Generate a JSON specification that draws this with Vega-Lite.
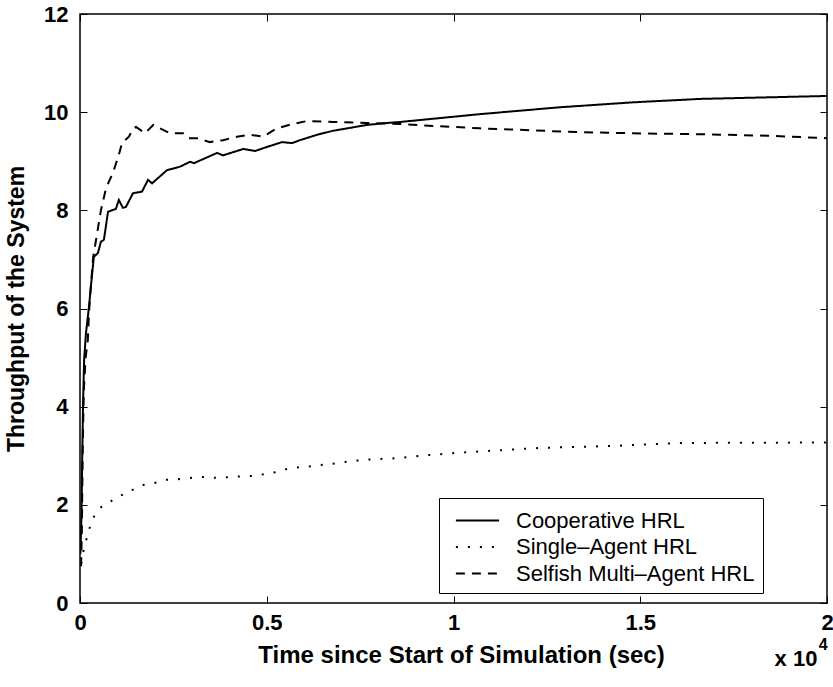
{
  "$schema": "https://vega.github.io/schema/vega-lite/v6.json",
  "width": 747,
  "height": 589,
  "autosize": {"type": "none"},
  "padding": {"left": 80, "top": 14, "right": 6, "bottom": 84},
  "background": "white",
  "config": {
    "font": "Liberation Sans",
    "view": {"stroke": "black", "strokeWidth": 1.5},
    "axis": {
      "grid": false,
      "domain": false,
      "tickColor": "black",
      "tickWidth": 1,
      "tickSize": -7,
      "labelColor": "black",
      "labelFont": "Liberation Sans",
      "labelFontWeight": "bold",
      "labelFontSize": 22,
      "titleFont": "Liberation Sans",
      "titleFontWeight": "bold",
      "titleFontSize": 24,
      "titleColor": "black"
    }
  },
  "datasets": {
    "curves": [
      {"series": "Cooperative HRL", "t": 10, "v": 1.0},
      {"series": "Cooperative HRL", "t": 40, "v": 1.8},
      {"series": "Cooperative HRL", "t": 60, "v": 3.0},
      {"series": "Cooperative HRL", "t": 80, "v": 4.0},
      {"series": "Cooperative HRL", "t": 110, "v": 4.95},
      {"series": "Cooperative HRL", "t": 160, "v": 5.5},
      {"series": "Cooperative HRL", "t": 240, "v": 6.03},
      {"series": "Cooperative HRL", "t": 290, "v": 6.44},
      {"series": "Cooperative HRL", "t": 370, "v": 7.05},
      {"series": "Cooperative HRL", "t": 480, "v": 7.13},
      {"series": "Cooperative HRL", "t": 560, "v": 7.36},
      {"series": "Cooperative HRL", "t": 640, "v": 7.4},
      {"series": "Cooperative HRL", "t": 750, "v": 7.97},
      {"series": "Cooperative HRL", "t": 960, "v": 8.03},
      {"series": "Cooperative HRL", "t": 1040, "v": 8.21},
      {"series": "Cooperative HRL", "t": 1150, "v": 8.05},
      {"series": "Cooperative HRL", "t": 1230, "v": 8.07},
      {"series": "Cooperative HRL", "t": 1420, "v": 8.35},
      {"series": "Cooperative HRL", "t": 1660, "v": 8.38},
      {"series": "Cooperative HRL", "t": 1820, "v": 8.62},
      {"series": "Cooperative HRL", "t": 1930, "v": 8.55},
      {"series": "Cooperative HRL", "t": 2330, "v": 8.82},
      {"series": "Cooperative HRL", "t": 2680, "v": 8.89},
      {"series": "Cooperative HRL", "t": 2950, "v": 8.99},
      {"series": "Cooperative HRL", "t": 3050, "v": 8.96},
      {"series": "Cooperative HRL", "t": 3670, "v": 9.17},
      {"series": "Cooperative HRL", "t": 3830, "v": 9.12},
      {"series": "Cooperative HRL", "t": 4370, "v": 9.25},
      {"series": "Cooperative HRL", "t": 4690, "v": 9.21},
      {"series": "Cooperative HRL", "t": 5000, "v": 9.29},
      {"series": "Cooperative HRL", "t": 5410, "v": 9.39},
      {"series": "Cooperative HRL", "t": 5680, "v": 9.37},
      {"series": "Cooperative HRL", "t": 5890, "v": 9.43},
      {"series": "Cooperative HRL", "t": 6350, "v": 9.54},
      {"series": "Cooperative HRL", "t": 6770, "v": 9.62},
      {"series": "Cooperative HRL", "t": 7230, "v": 9.68},
      {"series": "Cooperative HRL", "t": 7680, "v": 9.74},
      {"series": "Cooperative HRL", "t": 8220, "v": 9.78},
      {"series": "Cooperative HRL", "t": 8570, "v": 9.8},
      {"series": "Cooperative HRL", "t": 10710, "v": 9.96},
      {"series": "Cooperative HRL", "t": 12850, "v": 10.1},
      {"series": "Cooperative HRL", "t": 14800, "v": 10.2},
      {"series": "Cooperative HRL", "t": 16600, "v": 10.27},
      {"series": "Cooperative HRL", "t": 20000, "v": 10.33},

      {"series": "Single–Agent HRL", "t": 30, "v": 0.8},
      {"series": "Single–Agent HRL", "t": 80, "v": 1.02},
      {"series": "Single–Agent HRL", "t": 160, "v": 1.26},
      {"series": "Single–Agent HRL", "t": 240, "v": 1.49},
      {"series": "Single–Agent HRL", "t": 350, "v": 1.73},
      {"series": "Single–Agent HRL", "t": 540, "v": 1.94},
      {"series": "Single–Agent HRL", "t": 800, "v": 2.06},
      {"series": "Single–Agent HRL", "t": 1070, "v": 2.18},
      {"series": "Single–Agent HRL", "t": 1390, "v": 2.3},
      {"series": "Single–Agent HRL", "t": 1660, "v": 2.4},
      {"series": "Single–Agent HRL", "t": 1960, "v": 2.44},
      {"series": "Single–Agent HRL", "t": 2330, "v": 2.51},
      {"series": "Single–Agent HRL", "t": 2760, "v": 2.53},
      {"series": "Single–Agent HRL", "t": 3210, "v": 2.57},
      {"series": "Single–Agent HRL", "t": 3670, "v": 2.55},
      {"series": "Single–Agent HRL", "t": 4100, "v": 2.57},
      {"series": "Single–Agent HRL", "t": 4630, "v": 2.59},
      {"series": "Single–Agent HRL", "t": 5000, "v": 2.63},
      {"series": "Single–Agent HRL", "t": 5270, "v": 2.67},
      {"series": "Single–Agent HRL", "t": 5620, "v": 2.75},
      {"series": "Single–Agent HRL", "t": 6240, "v": 2.79},
      {"series": "Single–Agent HRL", "t": 6880, "v": 2.85},
      {"series": "Single–Agent HRL", "t": 7230, "v": 2.89},
      {"series": "Single–Agent HRL", "t": 7840, "v": 2.93},
      {"series": "Single–Agent HRL", "t": 8490, "v": 2.95},
      {"series": "Single–Agent HRL", "t": 9100, "v": 3.0},
      {"series": "Single–Agent HRL", "t": 10100, "v": 3.06},
      {"series": "Single–Agent HRL", "t": 12320, "v": 3.16},
      {"series": "Single–Agent HRL", "t": 14270, "v": 3.2},
      {"series": "Single–Agent HRL", "t": 16070, "v": 3.26},
      {"series": "Single–Agent HRL", "t": 20000, "v": 3.27},

      {"series": "Selfish Multi–Agent HRL", "t": 30, "v": 0.75},
      {"series": "Selfish Multi–Agent HRL", "t": 50, "v": 1.5},
      {"series": "Selfish Multi–Agent HRL", "t": 70, "v": 3.0},
      {"series": "Selfish Multi–Agent HRL", "t": 100, "v": 4.3},
      {"series": "Selfish Multi–Agent HRL", "t": 150, "v": 5.0},
      {"series": "Selfish Multi–Agent HRL", "t": 210, "v": 5.36},
      {"series": "Selfish Multi–Agent HRL", "t": 240, "v": 5.91},
      {"series": "Selfish Multi–Agent HRL", "t": 290, "v": 6.44},
      {"series": "Selfish Multi–Agent HRL", "t": 350, "v": 7.03},
      {"series": "Selfish Multi–Agent HRL", "t": 430, "v": 7.4},
      {"series": "Selfish Multi–Agent HRL", "t": 560, "v": 8.0},
      {"series": "Selfish Multi–Agent HRL", "t": 700, "v": 8.46},
      {"series": "Selfish Multi–Agent HRL", "t": 880, "v": 8.76},
      {"series": "Selfish Multi–Agent HRL", "t": 1040, "v": 9.13},
      {"series": "Selfish Multi–Agent HRL", "t": 1125, "v": 9.37},
      {"series": "Selfish Multi–Agent HRL", "t": 1310, "v": 9.5},
      {"series": "Selfish Multi–Agent HRL", "t": 1420, "v": 9.67},
      {"series": "Selfish Multi–Agent HRL", "t": 1500, "v": 9.7},
      {"series": "Selfish Multi–Agent HRL", "t": 1740, "v": 9.57},
      {"series": "Selfish Multi–Agent HRL", "t": 1960, "v": 9.74},
      {"series": "Selfish Multi–Agent HRL", "t": 2410, "v": 9.57},
      {"series": "Selfish Multi–Agent HRL", "t": 2760, "v": 9.57},
      {"series": "Selfish Multi–Agent HRL", "t": 2900, "v": 9.47},
      {"series": "Selfish Multi–Agent HRL", "t": 3130, "v": 9.47},
      {"series": "Selfish Multi–Agent HRL", "t": 3480, "v": 9.39},
      {"series": "Selfish Multi–Agent HRL", "t": 3830, "v": 9.43},
      {"series": "Selfish Multi–Agent HRL", "t": 4200, "v": 9.5},
      {"series": "Selfish Multi–Agent HRL", "t": 4550, "v": 9.54},
      {"series": "Selfish Multi–Agent HRL", "t": 4900, "v": 9.5},
      {"series": "Selfish Multi–Agent HRL", "t": 5270, "v": 9.67},
      {"series": "Selfish Multi–Agent HRL", "t": 5700, "v": 9.76},
      {"series": "Selfish Multi–Agent HRL", "t": 6080, "v": 9.82},
      {"series": "Selfish Multi–Agent HRL", "t": 6770, "v": 9.8},
      {"series": "Selfish Multi–Agent HRL", "t": 7680, "v": 9.78},
      {"series": "Selfish Multi–Agent HRL", "t": 8570, "v": 9.76},
      {"series": "Selfish Multi–Agent HRL", "t": 9450, "v": 9.72},
      {"series": "Selfish Multi–Agent HRL", "t": 10710, "v": 9.67},
      {"series": "Selfish Multi–Agent HRL", "t": 12130, "v": 9.63},
      {"series": "Selfish Multi–Agent HRL", "t": 13040, "v": 9.6},
      {"series": "Selfish Multi–Agent HRL", "t": 14800, "v": 9.57},
      {"series": "Selfish Multi–Agent HRL", "t": 16600, "v": 9.55},
      {"series": "Selfish Multi–Agent HRL", "t": 18400, "v": 9.52},
      {"series": "Selfish Multi–Agent HRL", "t": 20000, "v": 9.47}
    ],
    "multiplier": [
      {"t": 19170, "v": -1.14, "label": "x 10"}
    ],
    "exponent": [
      {"t": 19900, "v": -0.86, "label": "4"}
    ]
  },
  "layer": [
    {
      "data": {"name": "curves"},
      "mark": {"type": "line", "color": "black", "strokeWidth": 2, "clip": true, "strokeCap": "butt"},
      "encoding": {
        "x": {
          "field": "t", "type": "quantitative",
          "scale": {"domain": [0, 20000], "nice": false, "zero": false},
          "axis": {
            "orient": "bottom",
            "values": [0, 5000, 10000, 15000, 20000],
            "labelExpr": "format(datum.value / 10000, '~g')",
            "labelPadding": 16,
            "labelFlush": false,
            "title": "Time since Start of Simulation (sec)",
            "titlePadding": 10,
            "titleX": 381
          }
        },
        "y": {
          "field": "v", "type": "quantitative",
          "scale": {"domain": [0, 12], "nice": false, "zero": false},
          "axis": {
            "orient": "left",
            "values": [0, 2, 4, 6, 8, 10, 12],
            "labelPadding": 19,
            "title": "Throughput of the System",
            "titleFontSize": 23,
            "titlePadding": 15
          }
        },
        "strokeDash": {
          "field": "series", "type": "nominal",
          "scale": {
            "domain": ["Cooperative HRL", "Single–Agent HRL", "Selfish Multi–Agent HRL"],
            "range": [[1, 0], [2, 10], [9, 7]]
          },
          "legend": {
            "title": null,
            "orient": "none",
            "legendX": 359,
            "legendY": 484,
            "direction": "vertical",
            "fillColor": "white",
            "strokeColor": "black",
            "padding": 8,
            "symbolType": "M-1.6,0H1.6",
            "symbolSize": 729,
            "symbolOffset": 16,
            "symbolStrokeWidth": 2,
            "symbolStrokeColor": "black",
            "labelFont": "Liberation Sans",
            "labelFontSize": 22,
            "labelColor": "black",
            "labelOffset": 24,
            "labelLimit": 400,
            "rowPadding": 0.5
          }
        }
      }
    },
    {
      "data": {"name": "curves"},
      "mark": {"type": "point", "opacity": 0},
      "encoding": {
        "x": {
          "field": "t", "type": "quantitative",
          "scale": {"domain": [0, 20000], "nice": false, "zero": false},
          "axis": {"orient": "top", "values": [0, 5000, 10000, 15000, 20000], "labels": false, "title": null}
        },
        "y": {
          "field": "v", "type": "quantitative",
          "scale": {"domain": [0, 12], "nice": false, "zero": false},
          "axis": {"orient": "right", "values": [0, 2, 4, 6, 8, 10, 12], "labels": false, "title": null}
        }
      }
    },
    {
      "data": {"name": "multiplier"},
      "mark": {"type": "text", "font": "Liberation Sans", "fontWeight": "bold", "fontSize": 22, "align": "center", "baseline": "middle", "color": "black"},
      "encoding": {
        "x": {"field": "t", "type": "quantitative", "scale": {"domain": [0, 20000], "nice": false, "zero": false}, "axis": null},
        "y": {"field": "v", "type": "quantitative", "scale": {"domain": [0, 12], "nice": false, "zero": false}, "axis": null},
        "text": {"field": "label"}
      }
    },
    {
      "data": {"name": "exponent"},
      "mark": {"type": "text", "font": "Liberation Sans", "fontWeight": "bold", "fontSize": 16, "align": "center", "baseline": "middle", "color": "black"},
      "encoding": {
        "x": {"field": "t", "type": "quantitative", "scale": {"domain": [0, 20000], "nice": false, "zero": false}, "axis": null},
        "y": {"field": "v", "type": "quantitative", "scale": {"domain": [0, 12], "nice": false, "zero": false}, "axis": null},
        "text": {"field": "label"}
      }
    }
  ],
  "resolve": {"axis": {"x": "independent", "y": "independent"}}
}
